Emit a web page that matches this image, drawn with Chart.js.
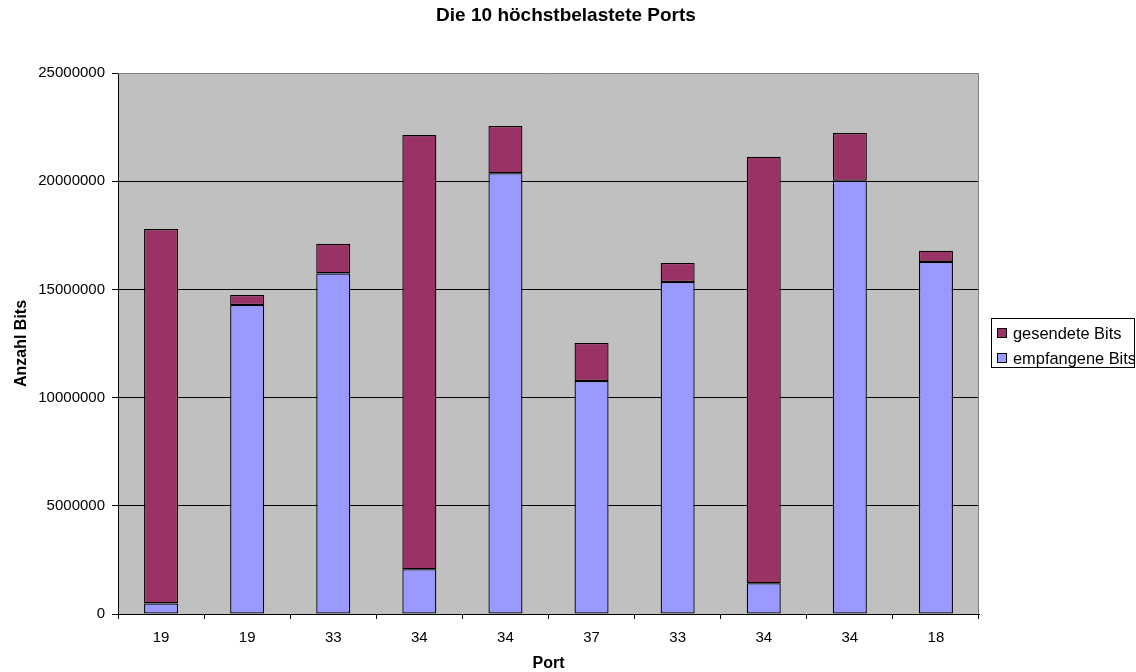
<!DOCTYPE html>
<html>
<head>
<meta charset="utf-8">
<title>Die 10 höchstbelastete Ports</title>
<script src="https://cdn.jsdelivr.net/npm/chart.js@4/dist/chart.umd.min.js"></script>
<style>
  html, body { margin: 0; padding: 0; background: #ffffff; }
  #wrap { width: 1136px; height: 672px; }
</style>
</head>
<body>
<div id="wrap"><canvas id="c" width="1136" height="672"></canvas></div>
<script>
// Port numbers on the category axis
const ports = ['19', '19', '33', '34', '34', '37', '33', '34', '34', '18'];

// Received bits per port (bottom segment of each stack)
const empfangeneBits = [490000, 14280000, 15740000, 2070000, 20370000, 10770000, 15340000, 1420000, 20020000, 16270000];

// Sent bits per port (stacked on top)
const gesendeteBits = [17300000, 460000, 1370000, 20060000, 2180000, 1750000, 880000, 19710000, 2210000, 520000];

// Value axis ticks
const yTicks = [0, 5000000, 10000000, 15000000, 20000000, 25000000];

const titleText = 'Die 10 höchstbelastete Ports';
const yTitleText = 'Anzahl Bits';
const xTitleText = 'Port';
const labelSent = 'gesendete Bits';
const labelRecv = 'empfangene Bits';

const COLOR_SENT = '#993366';
const COLOR_RECV = '#9999FF';
const FONT = '"Liberation Sans", Arial, sans-serif';

// Grey plot background with a darker frame on top and right
const plotBackground = {
  id: 'plotBackground',
  beforeDraw(chart) {
    const { ctx, chartArea: a } = chart;
    ctx.save();
    ctx.fillStyle = '#C0C0C0';
    ctx.fillRect(a.left, a.top, a.right - a.left, a.bottom - a.top);
    ctx.restore();
  },
  afterDatasetsDraw(chart) {
    const { ctx, chartArea: a } = chart;
    ctx.save();
    ctx.strokeStyle = '#808080';
    ctx.lineWidth = 1;
    ctx.beginPath();
    ctx.moveTo(a.left, a.top + 0.5);
    ctx.lineTo(a.right - 0.5, a.top + 0.5);
    ctx.lineTo(a.right - 0.5, a.bottom);
    ctx.stroke();
    ctx.restore();
  }
};

// Chart title, axis titles and the framed legend box
const annotations = {
  id: 'annotations',
  afterDraw(chart) {
    const { ctx, chartArea: a } = chart;
    ctx.save();
    ctx.fillStyle = '#000000';

    // title
    ctx.font = 'bold 19px ' + FONT;
    ctx.textAlign = 'center';
    ctx.textBaseline = 'middle';
    ctx.fillText(titleText, 566, 16);

    // x axis title
    ctx.font = 'bold 16px ' + FONT;
    ctx.fillText(xTitleText, (a.left + a.right) / 2, 664);

    // y axis title
    ctx.save();
    ctx.translate(22, (a.top + a.bottom) / 2);
    ctx.rotate(-Math.PI / 2);
    ctx.fillText(yTitleText, 0, 0);
    ctx.restore();

    // legend box
    const lx = 991, ly = 318, lw = 144, lh = 50;
    ctx.fillStyle = '#ffffff';
    ctx.fillRect(lx, ly, lw, lh);
    ctx.strokeStyle = '#000000';
    ctx.lineWidth = 1;
    ctx.strokeRect(lx + 0.5, ly + 0.5, lw - 1, lh - 1);

    ctx.save();
    ctx.beginPath();
    ctx.rect(lx + 1, ly + 1, lw - 2, lh - 2);
    ctx.clip();
    const items = [
      { text: labelSent, color: COLOR_SENT, y: 333 },
      { text: labelRecv, color: COLOR_RECV, y: 358 }
    ];
    ctx.font = '16.4px ' + FONT;
    ctx.textAlign = 'left';
    ctx.textBaseline = 'middle';
    items.forEach(it => {
      ctx.fillStyle = it.color;
      ctx.fillRect(997, it.y - 5, 10, 10);
      ctx.strokeStyle = '#000000';
      ctx.strokeRect(997.5, it.y - 4.5, 9, 9);
      ctx.fillStyle = '#000000';
      ctx.fillText(it.text, 1013, it.y + 1);
    });
    ctx.restore();

    ctx.restore();
  }
};

new Chart(document.getElementById('c'), {
  type: 'bar',
  data: {
    labels: ports,
    datasets: [
      {
        label: labelRecv,
        data: empfangeneBits,
        backgroundColor: COLOR_RECV,
        borderColor: '#000000',
        borderWidth: 1.3,
        borderSkipped: false
      },
      {
        label: labelSent,
        data: gesendeteBits,
        backgroundColor: COLOR_SENT,
        borderColor: '#000000',
        borderWidth: 1.3,
        borderSkipped: false
      }
    ]
  },
  options: {
    responsive: false,
    animation: false,
    devicePixelRatio: 1,
    layout: { padding: { top: 73, right: 157, bottom: 0, left: 0 } },
    datasets: {
      bar: { categoryPercentage: 1.0, barPercentage: 0.395 }
    },
    plugins: {
      legend: { display: false },
      title: { display: false },
      tooltip: { enabled: false }
    },
    scales: {
      x: {
        stacked: true,
        offset: true,
        afterFit(scale) { scale.height = 58; },
        grid: {
          offset: true,
          drawOnChartArea: false,
          drawTicks: true,
          tickLength: 5,
          color: '#000000',
          tickColor: '#000000'
        },
        border: { display: true, color: '#000000', width: 1 },
        ticks: {
          color: '#000000',
          padding: 10,
          maxRotation: 0,
          font: { family: FONT, size: 15 }
        }
      },
      y: {
        stacked: true,
        min: yTicks[0],
        max: yTicks[yTicks.length - 1],
        afterFit(scale) { scale.width = 118; },
        afterBuildTicks(scale) { scale.ticks = yTicks.map(v => ({ value: v })); },
        grid: {
          drawTicks: true,
          tickLength: 6,
          color: ctx => (ctx.tick && ctx.tick.value === yTicks[yTicks.length - 1]) ? 'rgba(0,0,0,0)' : '#000000',
          tickColor: '#000000',
          lineWidth: 1
        },
        border: { display: true, color: '#000000', width: 1 },
        ticks: {
          color: '#000000',
          padding: 7,
          font: { family: FONT, size: 15 },
          callback: v => String(v)
        }
      }
    }
  },
  plugins: [plotBackground, annotations]
});
</script>
</body>
</html>
